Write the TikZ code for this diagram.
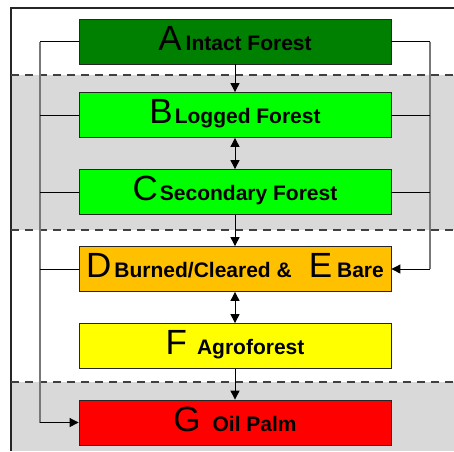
\documentclass[tikz,border=0pt]{standalone}
\usepackage{fontspec}
\setmainfont{Liberation Sans}
\usetikzlibrary{arrows.meta}
\definecolor{cA}{RGB}{0,128,0}
\definecolor{cB}{RGB}{0,255,0}
\definecolor{cD}{RGB}{255,192,0}
\definecolor{cF}{RGB}{255,255,0}
\definecolor{cG}{RGB}{255,0,0}
\definecolor{bandgray}{RGB}{217,217,217}
\definecolor{linkgray}{RGB}{120,120,120}
\newcommand{\bigletter}[1]{{\fontsize{35}{35}\selectfont #1}}
\newcommand{\stagename}[1]{{\fontsize{21}{21}\selectfont\bfseries #1}}
\begin{document}
\begin{tikzpicture}[x=1pt,y=-1pt,
  stagebox/.style={draw=black!85, line width=0.8pt, minimum width=312pt,
    minimum height=45pt, inner sep=0pt, text height=17pt, text depth=0pt},
  tip/.style={-{Triangle[length=9pt,width=9pt]}},
  dtip/.style={{Triangle[length=9pt,width=9pt]}-{Triangle[length=9pt,width=9pt]}},
  flow/.style={line width=0.9pt, black},
  band/.style={fill=bandgray, draw=none},
  sep/.style={dashed, dash pattern=on 8pt off 6pt, line width=1.5pt, black!75},
  rail/.style={line width=1.6pt, linkgray}]
\useasboundingbox (0,0) rectangle (454,451);
% gray bands
\fill[band] (11,75) rectangle (454,230);
\fill[band] (11,382) rectangle (454,451);
% frame
\draw[line width=1.2pt, black!85] (11,451) -- (11,8) -- (454,8);
% dashed separators
\draw[sep] (11,75) -- (454,75);
\draw[sep] (11,230) -- (454,230);
\draw[sep] (11,382) -- (454,382);
% boxes
\node[stagebox, fill=cA] (A) at (235,41.5) {\bigletter{A}\hspace{4pt}\stagename{Intact Forest}};
\node[stagebox, fill=cB] (B) at (235,115) {\bigletter{B}\hspace{2pt}\stagename{Logged Forest}};
\node[stagebox, fill=cB] (C) at (235,192) {\bigletter{C}\hspace{2pt}\stagename{Secondary Forest}};
\node[stagebox, fill=cD] (D) at (235,269) {\bigletter{D}\hspace{3pt}\stagename{Burned/Cleared \&}\hspace{17pt}\bigletter{E}\hspace{5pt}\stagename{Bare}};
\node[stagebox, fill=cF] (F) at (235,346) {\bigletter{F}\hspace{10pt}\stagename{Agroforest}};
\node[stagebox, fill=cG] (G) at (235,422.5) {\bigletter{G}\hspace{12pt}\stagename{Oil Palm}};
% vertical flow
\draw[flow, tip] (A) -- (B);
\draw[flow, dtip] (B) -- (C);
\draw[flow, tip] (C) -- (D);
\draw[flow, dtip] (D) -- (F);
\draw[flow, tip] (F) -- (G);
% side rails
\coordinate (LA) at (40,41.5);
\coordinate (LB) at (40,115);
\coordinate (LC) at (40,192);
\coordinate (LD) at (40,269);
\coordinate (LG) at (40,422.5);
\coordinate (RA) at (430,41.5);
\coordinate (RB) at (430,115);
\coordinate (RC) at (430,192);
\coordinate (RD) at (430,269);
\draw[rail] (LA) -- (LG);
\draw[rail] (RA) -- (RD);
\draw[flow] (A.west) -- (LA);
\draw[flow] (B.west) -- (LB);
\draw[flow] (C.west) -- (LC);
\draw[flow] (D.west) -- (LD);
\draw[flow, tip] (LG) -- (G.west);
\draw[flow] (A.east) -- (RA);
\draw[flow] (B.east) -- (RB);
\draw[flow] (C.east) -- (RC);
\draw[flow, tip] (RD) -- (D.east);
\end{tikzpicture}
\end{document}
